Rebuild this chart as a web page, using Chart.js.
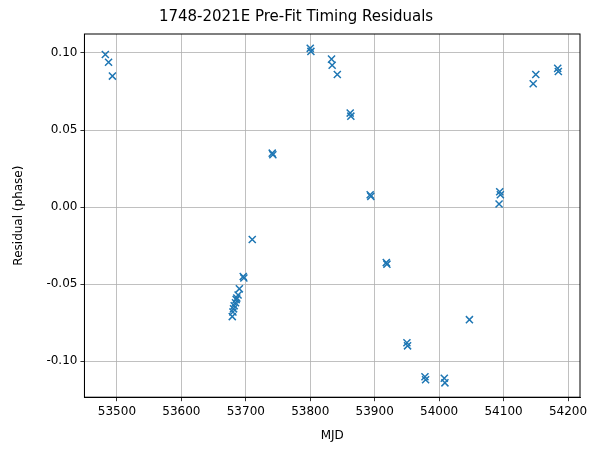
<!DOCTYPE html>
<html><head><meta charset="utf-8">
<script src="https://cdn.jsdelivr.net/npm/chart.js@4"></script>
<style>body{margin:0;background:#fff}#c{display:block}</style>
</head><body>
<div style="width:596px;height:453px"><canvas id="c"></canvas></div>
<script>
const mjd = [53482,53487,53493,
  53679,53680,53681,53682,53684,53685,53686,53688,53690,53696,53697,53710,
  53741,53742,53800,53801,53833,53834,53842,53862,53863,53893,53894,53918,53919,
  53950,53951,53978,53979,54008,54009,54047,54093,54094,54095,54146,54150,54184,54185];
const resid = [0.099,0.094,0.085,
  -0.071,-0.068,-0.066,-0.064,-0.062,-0.060,-0.059,-0.057,-0.053,-0.045,-0.046,-0.021,
  0.035,0.034,0.103,0.101,0.096,0.092,0.086,0.061,0.059,0.008,0.007,-0.036,-0.037,
  -0.088,-0.090,-0.110,-0.112,-0.111,-0.114,-0.073,0.002,0.010,0.008,0.080,0.086,0.090,0.088];
const xTicks = [53500,53600,53700,53800,53900,54000,54100,54200];
const yTicks = [-0.10,-0.05,0.00,0.05,0.10];

const font = {family:'DejaVu Sans', size:12};
const grid = {color:'#b0b0b0', lineWidth:0.8};
// frame around the plot area
const frame = {id:'frame', afterDraw(c){const a=c.chartArea,x=c.ctx;x.save();x.strokeStyle='#000';x.lineWidth=1;
  x.strokeRect(a.left,a.top,a.right-a.left,a.bottom-a.top);x.restore();}};
new Chart(document.getElementById('c'), {
  type:'scatter',
  data:{datasets:[{data:mjd.map((x,i)=>({x:x,y:resid[i]})),
    pointStyle:'crossRot', pointRadius:5, borderColor:'#1f77b4', borderWidth:1.5, backgroundColor:'#1f77b4'}]},
  options:{responsive:true, maintainAspectRatio:false, animation:false,
    layout:{padding:{left:12,right:16,top:2,bottom:10}},
    plugins:{legend:{display:false}, tooltip:{enabled:false},
      title:{display:true, text:'1748-2021E Pre-Fit Timing Residuals', color:'#000',
        font:{family:'DejaVu Sans', size:15, weight:'normal'}, padding:{top:6,bottom:8}}},
    scales:{
      x:{type:'linear', min:53449.6, max:54218.6,
        afterBuildTicks:a=>{a.ticks=xTicks.map(v=>({value:v}));},
        ticks:{font, color:'#000', callback:v=>String(v), padding:3}, grid:{...grid, tickLength:4, tickColor:'#000'},
        border:{color:'#000'},
        title:{display:true, text:'MJD', color:'#000', font, padding:{top:7,bottom:0}}},
      y:{min:-0.1233, max:0.1123,
        afterBuildTicks:a=>{a.ticks=yTicks.map(v=>({value:v}));},
        ticks:{font, color:'#000', callback:v=>v.toFixed(2), padding:3}, grid:{...grid, tickLength:4, tickColor:'#000'},
        border:{color:'#000'},
        title:{display:true, text:'Residual (phase)', color:'#000', font, padding:{top:0,bottom:17}}}
    }},
  plugins:[frame]
});
</script>
</body></html>
